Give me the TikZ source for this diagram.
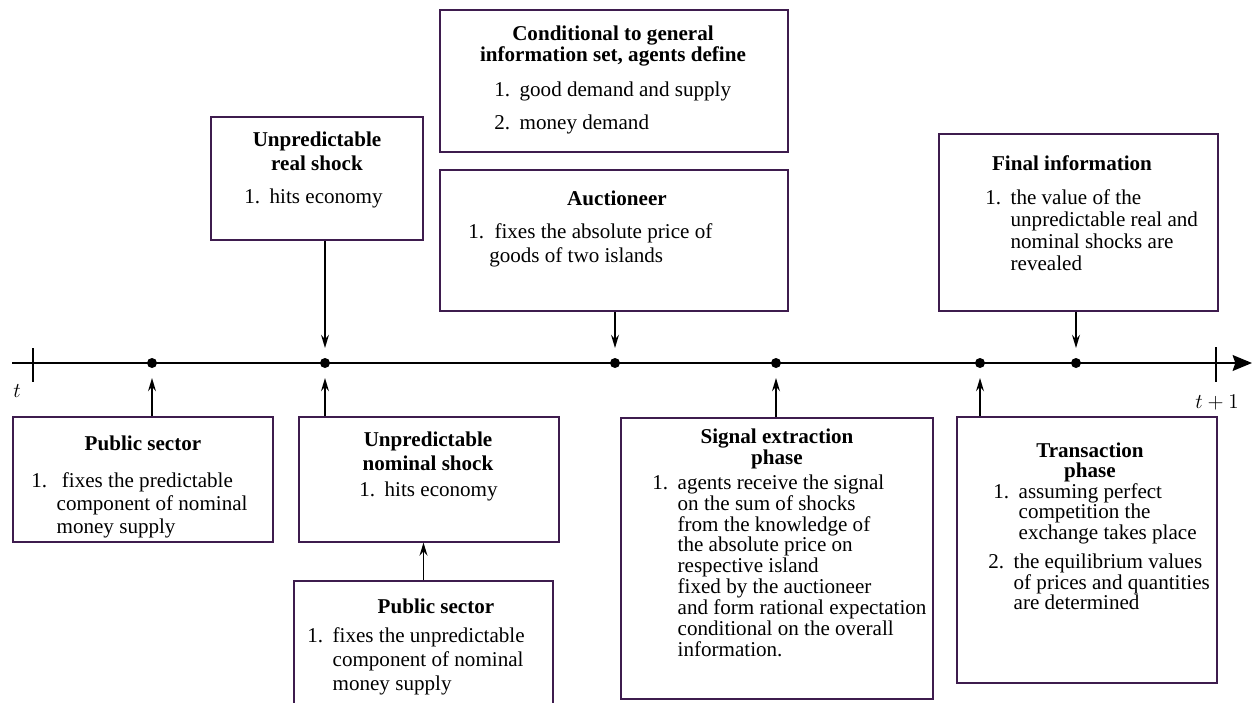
\documentclass[tikz,border=0pt]{standalone}
\usepackage{fontspec}
\setmainfont{Liberation Serif}
\usepackage{tikz}
\usetikzlibrary{positioning,arrows.meta,fit}

\definecolor{boxcol}{RGB}{62,28,78}
\newcommand{\steps}[2][5.4pt]{\begin{tabular}[t]{@{}l@{\hspace{#1}}l@{}}#2\end{tabular}}
\newcommand{\heads}[1]{\begin{tabular}[t]{@{}c@{}}#1\end{tabular}}

\begin{document}
\begin{tikzpicture}[x=0.02cm, y=-0.02cm,
            % box style
            box/.style={draw=boxcol, line width=0.6pt, inner sep=0pt},
            % bold heading
            ttl/.style={anchor=base, inner sep=0pt, font=\bfseries\fontsize{12}{#1}\selectfont},
            ttl/.default=13.7pt,
            % numbered list
            lst/.style={anchor=base west, inner sep=0pt, font=\fontsize{12}{#1}\selectfont},
            lst/.default=13.3pt,
            % event point
            dot/.style={circle, fill, inner sep=0pt, minimum size=0.2cm},
            % arrow style
            arr/.style={-{Stealth[length=7.5pt,width=4.5pt,inset=2.5pt]}, line width=0.8pt, shorten >=5.5pt},
            tick/.style={line width=0.7pt}
        ]
            \useasboundingbox (0,0) rectangle (1252,703);

            % --- 1. TIMELINE ---
            \coordinate (start) at (12,363);
            \coordinate (end) at (1252,363);
            \draw[line width=1.1pt, -{Stealth[length=11pt,width=9pt,inset=1.5pt]}] (start) -- (end);

            \draw[tick] (33,348) -- (33,382);
            \draw[tick] (1216,347) -- (1216,382);
            \node[anchor=base, inner sep=0pt, font=\fontsize{12}{14}\selectfont] (lt) at (17,397) {$t$};
            \node[anchor=base, inner sep=0pt, font=\fontsize{12}{14}\selectfont] (lt1) at (1217,408) {$t+1$};

            \node[dot] (d1) at (152,363) {};
            \node[dot] (d2) at (325,363) {};
            \node[dot] (d3) at (615,363) {};
            \node[dot] (d4) at (776,363) {};
            \node[dot] (d5) at (980,363) {};
            \node[dot] (d6) at (1076,363) {};

            % --- 2. BOXES ABOVE ---
            % Unpredictable real shock
            \node[box, fit={(211,117) (423,240)}] (real) {};
            \node[ttl] (real-t) at (317,146) {\heads{Unpredictable\\real shock}};
            \node[lst] (real-l) at (244,203) {\steps{1. & hits economy}};

            % Conditional
            \node[box, fit={(440,10) (788,152)}] (cond) {};
            \node[ttl=12.5pt] (cond-t) at (613,40) {\heads{Conditional to general\\information set, agents define}};
            \node[lst] (cond-l) at (494,96) {\steps{1. & good demand and supply\\[5.5pt] 2. & money demand}};

            % Auctioneer
            \node[box, fit={(440,170) (788,311)}] (auct) {};
            \node[ttl] (auct-t) at (617,205) {Auctioneer};
            \node[lst=13.7pt] (auct-l) at (468,238) {\steps[2.9pt]{1. & \ fixes the absolute price of\\ & goods of two islands}};

            % Final information
            \node[box, fit={(939,134) (1218,311)}] (fin) {};
            \node[ttl] (fin-t) at (1072,170) {Final information};
            \node[lst=12.6pt] (fin-l) at (985,204) {\steps{1. & the value of the\\ & unpredictable real and\\ & nominal shocks are\\ & revealed}};

            % --- 3. BOXES BELOW ---
            % Public sector (predictable)
            \node[box, fit={(13,417) (273,542)}] (ps1) {};
            \node[ttl] (ps1-t) at (143,450) {Public sector};
            \node[lst=13.1pt] (ps1-l) at (31,487) {\steps{1. & \ fixes the predictable\\ & component of nominal\\ & money supply}};

            % Unpredictable nominal shock
            \node[box, fit={(299,417) (559,542)}] (nom) {};
            \node[ttl=14.2pt] (nom-t) at (428,446) {\heads{Unpredictable\\nominal shock}};
            \node[lst] (nom-l) at (359,496) {\steps{1. & hits economy}};

            % Public sector (unpredictable)
            \node[box, fit={(294,581) (553,720)}] (ps2) {};
            \node[ttl] (ps2-t) at (436,613) {Public sector};
            \node[lst=13.7pt] (ps2-l) at (307,642) {\steps{1. & fixes the unpredictable\\ & component of nominal\\ & money supply}};

            % Signal extraction
            \node[box, line width=1.3pt, fit={(621,418) (933,699)}] (sig) {};
            \node[ttl=12.5pt] (sig-t) at (777,443) {\heads{Signal extraction\\phase}};
            \node[lst=11.8pt] (sig-l) at (652,489) {\steps{1. & agents receive the signal\\ & on the sum of shocks\\ & from the knowledge of\\ & the absolute price on\\ & respective island\\ & fixed by the auctioneer\\ & and form rational expectation\\ & conditional on the overall\\ & information.}};

            % Transaction phase
            \node[box, line width=0.9pt, fit={(957,417) (1217,683)}] (tra) {};
            \node[ttl=10.3pt] (tra-t) at (1090,457) {\heads{Transaction\\phase}};
            \node[lst=11.7pt] (tra-l1) at (993,498) {\steps{1. & assuming perfect\\ & competition the\\ & exchange takes place}};
            \node[lst=11.7pt] (tra-l2) at (988,568) {\steps{2. & the equilibrium values\\ & of prices and quantities\\ & are determined}};

            % --- 4. ARROWS ---
            \draw[arr] (real.south -| d2) -- (d2);
            \draw[arr] (auct.south -| d3) -- (d3);
            \draw[arr] (fin.south -| d6) -- (d6);
            \draw[arr] (ps1.north -| d1) -- (d1);
            \draw[arr] (nom.north -| d2) -- (d2);
            \draw[arr] (sig.north -| d4) -- (d4);
            \draw[arr] (tra.north -| d5) -- (d5);
            \draw[arr, shorten >=0pt] (ps2.north) -- (ps2.north |- nom.south);

        \end{tikzpicture}
\end{document}
